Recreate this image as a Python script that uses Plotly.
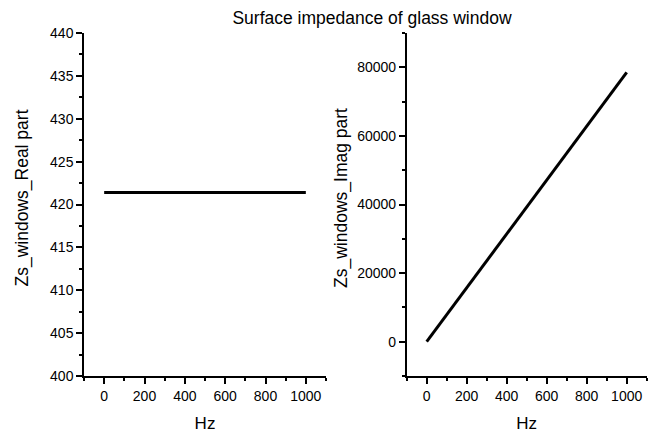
import plotly.graph_objects as go

# Data
freq_hz = [0, 100, 200, 300, 400, 500, 600, 700, 800, 900, 1000]
zs_real = [421.4, 421.4, 421.4, 421.4, 421.4, 421.4, 421.4, 421.4, 421.4, 421.4, 421.4]
zs_imag = [0, 7854, 15708, 23562, 31416, 39270, 47124, 54978, 62832, 70686, 78540]

title_text = "Surface impedance of glass window"
x_title = "Hz"
y1_title = "Zs_windows_Real part"
y2_title = "Zs_windows_Imag part"

FONT = "Liberation Sans, Arial, sans-serif"

fig = go.Figure()
fig.add_trace(go.Scatter(x=freq_hz, y=zs_real, mode="lines",
                         line=dict(color="black", width=3), xaxis="x", yaxis="y",
                         showlegend=False))
fig.add_trace(go.Scatter(x=freq_hz, y=zs_imag, mode="lines",
                         line=dict(color="black", width=3), xaxis="x2", yaxis="y2",
                         showlegend=False))

W, H = 649, 437
ytop = 1 - 33 / H
ybot = 1 - 376 / H

common_axis = dict(
    showline=True, linecolor="black", linewidth=1.5,
    ticks="outside", ticklen=6, tickwidth=1.5, tickcolor="black",
    showgrid=False, zeroline=False, automargin=False,
    tickfont=dict(family=FONT, size=14, color="black"),
)
minor_x = dict(dtick=100, tick0=-100, ticks="outside", ticklen=3, tickwidth=1.5, tickcolor="black")

fig.update_layout(
    width=W, height=H,
    margin=dict(l=0, r=0, t=0, b=0, autoexpand=False),
    paper_bgcolor="white", plot_bgcolor="white",
    font=dict(family=FONT, color="black"),
    title=dict(text=title_text, x=372 / W, xanchor="center", y=1 - 18 / H, yanchor="middle",
               font=dict(family=FONT, size=17.5, color="black")),
    xaxis=dict(domain=[84 / W, 326 / W], range=[-100, 1100], tickvals=[0, 200, 400, 600, 800, 1000],
               minor=minor_x,
               title=dict(text=x_title, font=dict(family=FONT, size=17), standoff=15),
               anchor="y", **common_axis),
    yaxis=dict(domain=[ybot, ytop], range=[400, 440], dtick=5, tick0=400,
               minor=dict(dtick=2.5, ticks="outside", ticklen=3, tickwidth=1.5, tickcolor="black"),
               anchor="x", **common_axis),
    xaxis2=dict(domain=[406.7 / W, 646.7 / W], range=[-100, 1100], tickvals=[0, 200, 400, 600, 800, 1000],
                minor=minor_x,
                title=dict(text=x_title, font=dict(family=FONT, size=17), standoff=15),
                anchor="y2", **common_axis),
    yaxis2=dict(domain=[ybot, ytop], range=[-10000, 90000], dtick=20000, tick0=0, tickformat="d",
                minor=dict(dtick=10000, ticks="outside", ticklen=3, tickwidth=1.5, tickcolor="black"),
                anchor="x2", **common_axis),
)

for txt, xpx in [(y1_title, 21.5), (y2_title, 341)]:
    fig.add_annotation(text=txt, xref="paper", yref="paper", x=xpx / W, y=1 - 198 / H,
                       xanchor="center", yanchor="middle", textangle=-90, showarrow=False,
                       font=dict(family=FONT, size=17.5, color="black"))

fig.write_html("out.html")
